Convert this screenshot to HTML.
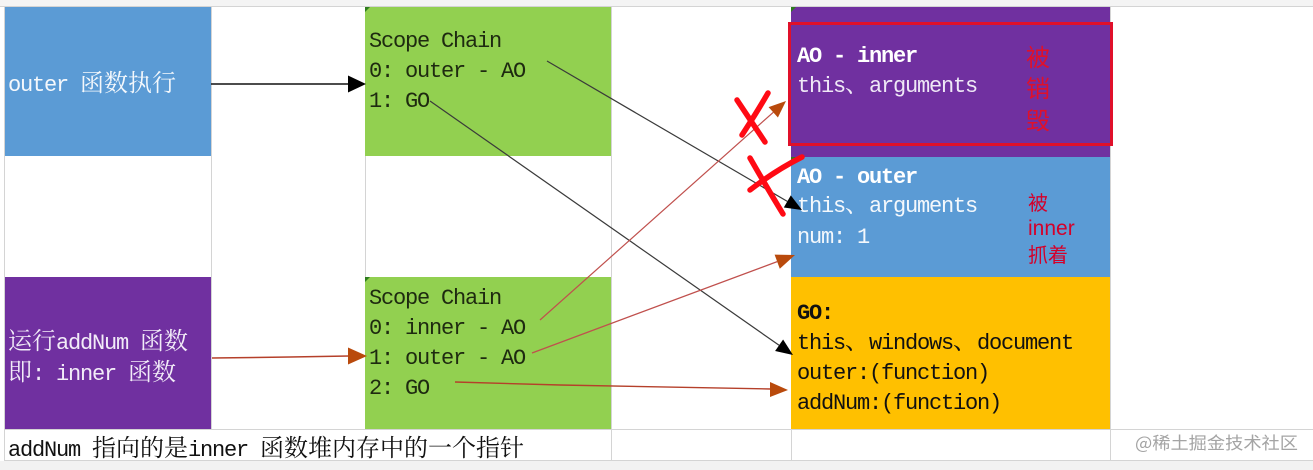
<!DOCTYPE html>
<html><head><meta charset="utf-8"><style>
html,body{margin:0;padding:0;background:#fff;}
svg{display:block;}
text{font-family:"Liberation Mono","DejaVu Sans Mono",monospace;font-size:22px;letter-spacing:-1.2px;white-space:pre;}
.c{font-family:"Noto Serif CJK SC","Noto Sans CJK SC",serif;font-size:24px;letter-spacing:0;}
.s{font-family:"Noto Sans CJK SC","Liberation Sans",sans-serif;letter-spacing:0;}
</style></head><body>
<svg width="1313" height="470" viewBox="0 0 1313 470" xmlns="http://www.w3.org/2000/svg">
<rect x="0" y="0" width="1313" height="470" fill="#fff"/>
<rect x="0" y="0" width="1313" height="6" fill="#f4f4f4"/>
<rect x="0" y="461" width="1313" height="9" fill="#f2f2f2"/>

<!-- grid -->
<g stroke="#d4d4d4" stroke-width="1">
<line x1="0" y1="6.5" x2="1313" y2="6.5"/>
<line x1="4" y1="429.5" x2="1313" y2="429.5"/>
<line x1="4" y1="460.5" x2="1313" y2="460.5"/>
<line x1="4.5" y1="6" x2="4.5" y2="461"/>
<line x1="211.5" y1="6" x2="211.5" y2="430"/>
<line x1="365.5" y1="6" x2="365.5" y2="430"/>
<line x1="611.5" y1="6" x2="611.5" y2="461"/>
<line x1="791.5" y1="6" x2="791.5" y2="461"/>
<line x1="1110.5" y1="6" x2="1110.5" y2="461"/>
</g>

<!-- boxes -->
<rect x="5" y="7" width="206" height="149" fill="#5b9bd5"/>
<rect x="365" y="7" width="246" height="149" fill="#92d050"/>
<rect x="791" y="7" width="319" height="150" fill="#7030a0"/>
<rect x="791" y="157" width="319" height="120" fill="#5b9bd5"/>
<rect x="791" y="277" width="319" height="152" fill="#ffc000"/>
<rect x="5" y="277" width="206" height="152" fill="#7030a0"/>
<rect x="365" y="277" width="246" height="152" fill="#92d050"/>
<polygon points="365,7 370,7 365,12" fill="#2e7d1e"/>
<polygon points="365,277 370,277 365,282" fill="#2e7d1e"/>
<polygon points="791,7 796,7 791,12" fill="#2e7d1e"/>
<polygon points="791,157 796,157 791,162" fill="#2e7d1e"/>

<!-- red border -->
<rect x="789.5" y="23.5" width="322" height="121" fill="none" stroke="#e0102a" stroke-width="3"/>

<!-- texts -->
<text x="8" y="91" fill="#f4f8fc">outer <tspan class="c">函数执行</tspan></text>

<text x="369" y="47" fill="#1e2a10">Scope Chain</text>
<text x="369" y="77" fill="#1e2a10">0: outer - AO</text>
<text x="369" y="107" fill="#1e2a10">1: GO</text>

<text x="797" y="62" fill="#fff" font-weight="bold">AO - inner</text>
<text x="797" y="92" fill="#efe8f6">this<tspan class="c">、</tspan>arguments</text>

<text x="1026" y="66" class="s" style="font-size:24px" fill="#e0102a">被</text>
<text x="1026" y="97" class="s" style="font-size:24px" fill="#e0102a">销</text>
<text x="1026" y="129" class="s" style="font-size:24px" fill="#e0102a">毁</text>

<text x="797" y="183" fill="#fff" font-weight="bold">AO - outer</text>
<text x="797" y="212" fill="#f4f8fc">this<tspan class="c">、</tspan>arguments</text>
<text x="797" y="243" fill="#f4f8fc">num: 1</text>

<text x="1028" y="210" class="s" style="font-size:20px" fill="#d4002a">被</text>
<text x="1028" y="235" style="font-family:'Liberation Sans',sans-serif;font-size:21px;letter-spacing:0" fill="#d4002a">inner</text>
<text x="1028" y="262" class="s" style="font-size:20px" fill="#d4002a">抓着</text>

<text x="797" y="319" fill="#111" font-weight="bold">GO:</text>
<text x="797" y="349" fill="#111">this<tspan class="c">、</tspan>windows<tspan class="c">、</tspan>document</text>
<text x="797" y="379" fill="#111">outer:(function)</text>
<text x="797" y="409" fill="#111">addNum:(function)</text>

<text x="8" y="349" fill="#f2ecf8"><tspan class="c">运行</tspan>addNum <tspan class="c">函数</tspan></text>
<text x="8" y="380" fill="#f2ecf8"><tspan class="c">即</tspan>: inner <tspan class="c">函数</tspan></text>

<text x="369" y="304" fill="#1e2a10">Scope Chain</text>
<text x="369" y="334" fill="#1e2a10">0: inner - AO</text>
<text x="369" y="364" fill="#1e2a10">1: outer - AO</text>
<text x="369" y="394" fill="#1e2a10">2: GO</text>

<text x="8" y="456" fill="#111">addNum <tspan class="c">指向的是</tspan>inner <tspan class="c">函数堆内存中的一个指针</tspan></text>

<text x="1135" y="449" class="s" style="font-size:17px" fill="#a4a4a4" textLength="163" lengthAdjust="spacingAndGlyphs">@稀土掘金技术社区</text>

<!-- black arrows -->
<line x1="211" y1="84" x2="349" y2="84" stroke="#111" stroke-width="1.5"/>
<polygon points="366,84 348,75.5 348,92.5" fill="#000"/>

<line x1="547" y1="61" x2="787.3" y2="201.4" stroke="#3a3a3a" stroke-width="1.2"/>
<polygon points="802,210 783.8,207.5 790.8,195.4" fill="#000"/>

<line x1="430" y1="101" x2="779.1" y2="345.3" stroke="#3a3a3a" stroke-width="1.2"/>
<polygon points="793,355 775.1,351 783.1,339.5" fill="#000"/>

<!-- red arrows -->
<polyline points="212,358 290,357 349,356" fill="none" stroke="#b5402a" stroke-width="1.5"/>
<polygon points="367,356 348,347.5 348,364.5" fill="#b94a0c"/>

<line x1="540" y1="320" x2="773.3" y2="112.3" stroke="#c0504d" stroke-width="1.2"/>
<polygon points="786,101 777.9,117.5 768.6,107.1" fill="#b94a0c"/>

<line x1="532" y1="353" x2="777.2" y2="261.6" stroke="#c0504d" stroke-width="1.3"/>
<polygon points="795,255 779.8,268.7 774.6,254.6" fill="#b94a0c"/>

<polyline points="455,382 560,385 771,389" fill="none" stroke="#b5402a" stroke-width="1.4"/>
<polygon points="788,390 770,382 770,397" fill="#b94a0c"/>

<!-- red X marks -->
<g stroke="#ff0a14" stroke-width="5.5" stroke-linecap="round" fill="none">
<path d="M737,100 Q749,118 765,142"/>
<path d="M768,93 Q757,112 742,135"/>
<path d="M750,158 Q766,186 783,214"/>
<path d="M802,157 Q776,170 750,190"/>
</g>
</svg>
</body></html>
